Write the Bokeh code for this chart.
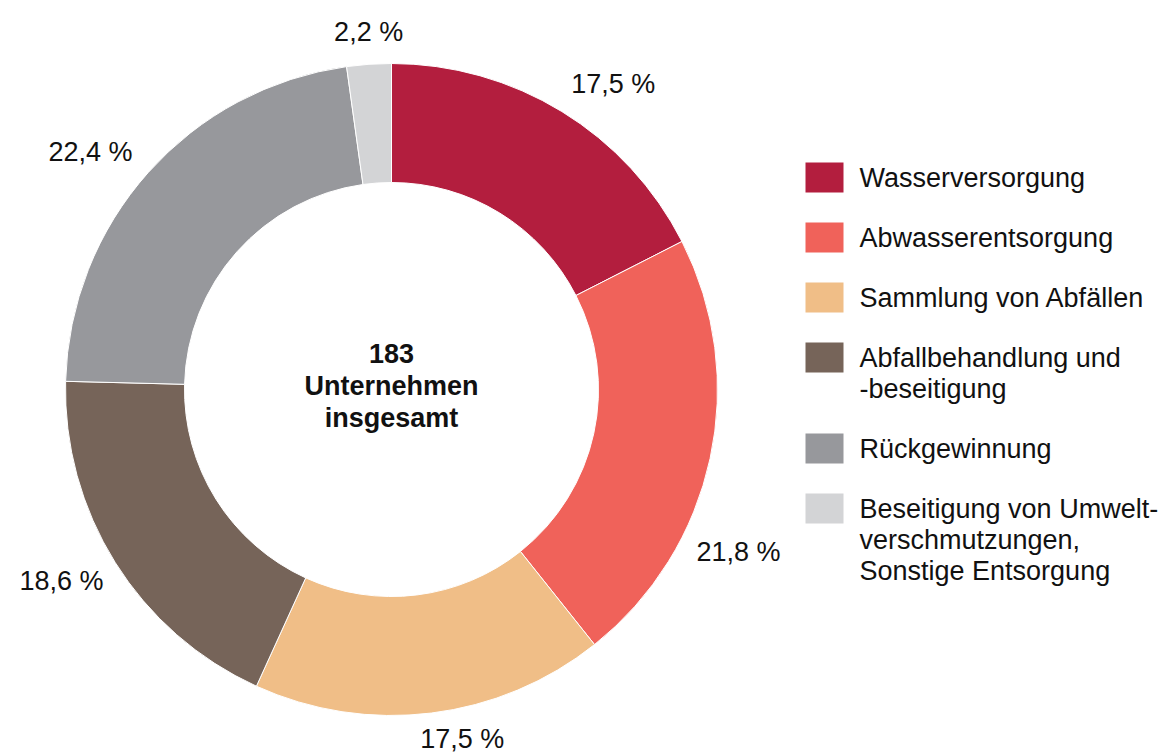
import math
from bokeh.plotting import figure
from bokeh.models import Range1d, ColumnDataSource
from bokeh.core.properties import value
from bokeh.embed import file_html
from bokeh.resources import INLINE

# ---- data ----
categories = [
    "Wasserversorgung",
    "Abwasserentsorgung",
    "Sammlung von Abfällen",
    "Abfallbehandlung und\n-beseitigung",
    "Rückgewinnung",
    "Beseitigung von Umwelt-\nverschmutzungen,\nSonstige Entsorgung",
]
shares = [17.5, 21.8, 17.5, 18.6, 22.4, 2.2]
colors = ["#B31E3E", "#F0625A", "#F0BE87", "#766459", "#97989C", "#D3D4D6"]
total_companies = 183
center_lines = [str(total_companies), "Unternehmen", "insgesamt"]

# ---- layout (pixel-like data space) ----
W, H = 1163, 756
FONT = "Liberation Sans"
FS = "27px"
cx, cy = 391, 756 - 389
r_out, r_in = 326, 207

p = figure(width=W, height=H, output_backend="svg", toolbar_location=None,
           x_range=Range1d(0, W), y_range=Range1d(756 - H, 756),
           min_border=0, match_aspect=False)
p.axis.visible = False
p.grid.visible = False
p.outline_line_color = None
p.background_fill_color = "white"
p.border_fill_color = "white"

# angles, clockwise from top
tot = sum(shares)
starts, ends, mids = [], [], []
acc = 0.0
for s in shares:
    a0 = acc / tot * 360.0
    acc += s
    a1 = acc / tot * 360.0
    starts.append(math.radians(90 - a0))
    ends.append(math.radians(90 - a1))
    mids.append((a0 + a1) / 2.0)

src = ColumnDataSource(dict(start=starts, end=ends, color=colors))
p.annular_wedge(x=cx, y=cy, inner_radius=r_in, outer_radius=r_out,
                start_angle="start", end_angle="end", direction="clock",
                fill_color="color", line_color="white", line_width=1, source=src)

# percentage labels
label_nudge = [4.5, 12.8, -4.4, 1.9, -3.5, 0.3]
lx, ly, lt = [], [], []
for s, m, n in zip(shares, mids, label_nudge):
    a = math.radians(m + n)
    txt = f"{s:.1f}".replace(".", ",") + " %"
    w = 80 if len(txt) > 5 else 68
    v = 11 if math.cos(a) > 0 else 4
    r = 345 + (w / 2) * abs(math.sin(a)) + v * abs(math.cos(a))
    lx.append(cx + r * math.sin(a))
    ly.append(cy + r * math.cos(a))
    lt.append(txt)
p.text(x=lx, y=ly, text=lt, text_font=value(FONT), text_font_size=FS,
       text_align="center", text_baseline="middle", text_color="#111111")

# center text
p.text(x=[cx] * 3, y=[cy + 36 - 32 * i for i in range(3)], text=center_lines,
       text_font=value(FONT), text_font_size=FS, text_font_style="bold",
       text_align="center", text_baseline="middle", text_color="#111111")

# legend (manual)
sq_x, sq_w, sq_h = 824, 38, 30
txt_x = 859
line_h = 31
y = 756 - 177
rx, ry, tx, ty, tt = [], [], [], [], []
for cat in categories:
    lines = cat.split("\n")
    rx.append(sq_x)
    ry.append(y)
    for k, ln in enumerate(lines):
        tx.append(txt_x)
        ty.append(y - k * line_h)
        tt.append(ln)
    y -= 60 + line_h * (len(lines) - 1)
p.rect(x=rx, y=ry, width=sq_w, height=sq_h, fill_color=colors, line_color=None)
p.text(x=tx, y=ty, text=tt, text_font=value(FONT), text_font_size=FS,
       text_align="left", text_baseline="middle", text_color="#111111")

open("out.html", "w").write(file_html(p, INLINE))
